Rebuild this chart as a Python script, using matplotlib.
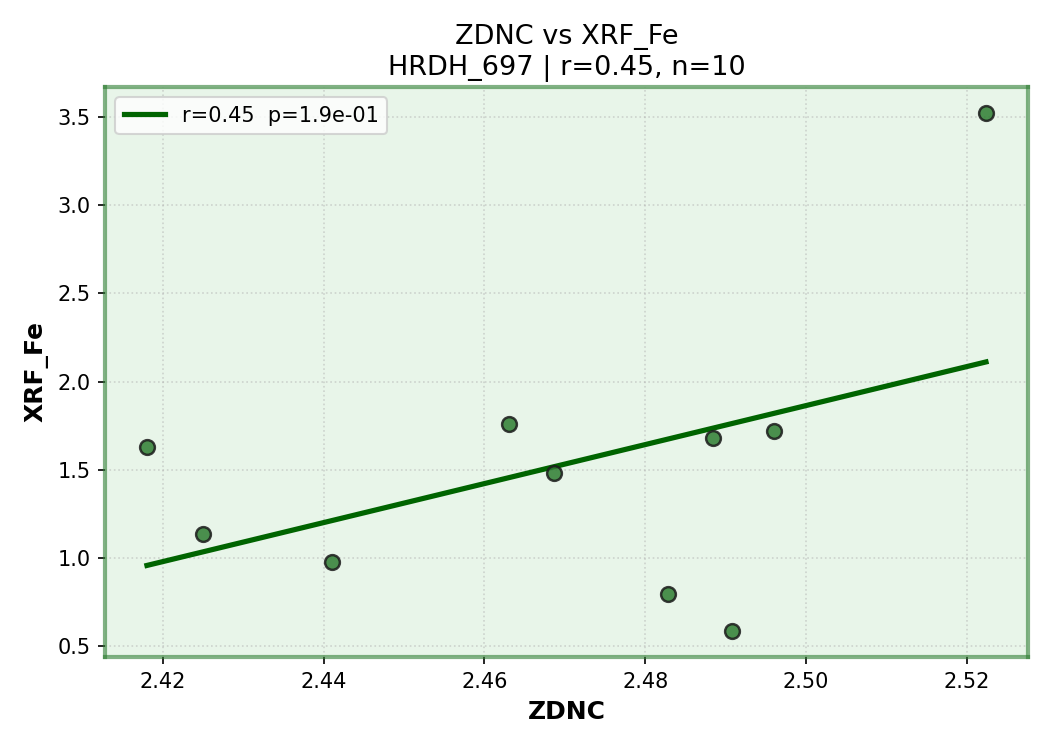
import numpy as np
import matplotlib
matplotlib.use("Agg")
import matplotlib.pyplot as plt

# ZDNC vs XRF_Fe, well HRDH_697
zdnc = np.array([2.4180, 2.4250, 2.4410, 2.4630, 2.4686, 2.4828, 2.4884, 2.4908, 2.4960, 2.5224])
xrf_fe = np.array([1.627, 1.133, 0.974, 1.758, 1.480, 0.792, 1.678, 0.583, 1.718, 3.525])
well = "HRDH_697"
p_text = "1.9e-01"

r = np.corrcoef(zdnc, xrf_fe)[0, 1]
m, b = np.polyfit(zdnc, xrf_fe, 1)

fig, ax = plt.subplots(figsize=(7, 5), dpi=150)
fig.subplots_adjust(left=0.1, right=0.979, top=0.884, bottom=0.124)

ax.set_facecolor("#e8f5e9")
for s in ax.spines.values():
    s.set_color("#2e7d32")
    s.set_alpha(0.6)
    s.set_linewidth(2)

ax.scatter(zdnc, xrf_fe, s=50, color="#2e7d32", alpha=0.85,
           edgecolors="#1b1b1b", linewidths=1.2, zorder=3)

xx = np.array([zdnc.min(), zdnc.max()])
ax.plot(xx, m * xx + b, color="darkgreen", lw=2.5,
        label=f"r={r:.2f}  p={p_text}", zorder=2)

ax.grid(True, linestyle=":", alpha=0.5)
ax.set_xlabel("ZDNC", fontsize=12, fontweight="bold")
ax.set_ylabel("XRF_Fe", fontsize=12, fontweight="bold")
ax.set_title(f"ZDNC vs XRF_Fe\n{well} | r={r:.2f}, n={len(zdnc)}", fontsize=13)
ax.legend(loc="upper left", fontsize=10)

plt.savefig("out.png")
